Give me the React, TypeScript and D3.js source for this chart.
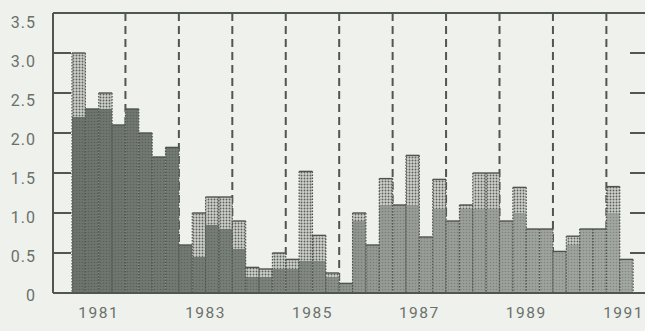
import React from "react";
import * as d3 from "d3";

// ---- data ----
const years = [1981, 1982, 1983, 1984, 1985, 1986, 1987, 1988, 1989, 1990, 1991];
const quarters = ["Q1", "Q2", "Q3", "Q4"];
const categories = years.flatMap((y) => quarters.map((q) => `${y} ${q}`)).slice(0, 42);

// bar heights (quarterly)
const values = [
  3.0, 2.3, 2.5, 2.1,
  2.3, 2.0, 1.7, 1.82,
  0.6, 1.0, 1.2, 1.2,
  0.9, 0.32, 0.3, 0.5,
  0.42, 1.52, 0.72, 0.25,
  0.12, 1.0, 0.6, 1.43,
  1.1, 1.72, 0.7, 1.42,
  0.9, 1.1, 1.5, 1.5,
  0.9, 1.32, 0.8, 0.8,
  0.52, 0.71, 0.8, 0.8,
  1.33, 0.42,
];

// level up to which the (darker, photo-tinted) part of each bar reaches
const tint = [
  2.2, 2.3, 2.3, 2.1,
  2.3, 2.0, 1.7, 1.82,
  0.6, 0.45, 0.85, 0.8,
  0.55, 0.2, 0.2, 0.3,
  0.3, 0.4, 0.4, 0.2,
  0.12, 0.9, 0.6, 1.1,
  1.1, 1.1, 0.7, 1.05,
  0.9, 1.05, 1.05, 1.05,
  0.9, 1.0, 0.8, 0.8,
  0.52, 0.6, 0.8, 0.8,
  1.0, 0.42,
];

const yTicks = [0, 0.5, 1.0, 1.5, 2.0, 2.5, 3.0, 3.5];
const yTickLabels = ["0", "0.5", "1.0", "1.5", "2.0", "2.5", "3.0", "3.5"];
const xLabelYears = [1981, 1983, 1985, 1987, 1989, 1991];

// ---- chart ----
const W = 645;
const H = 331;

export default function App() {
  const plotLeft = 53;
  const plotTop = 13;
  const plotBottom = 293;
  const barsLeft = 72;
  const barsRight = 633.1;

  const x = d3.scaleBand<string>().domain(categories).range([barsLeft, barsRight]).padding(0);
  const bw = x.bandwidth();
  const yearX = d3.scaleLinear().domain([1981, 1991.5]).range([barsLeft, barsRight]);
  const y = d3.scaleLinear().domain([0, 3.5]).range([plotBottom, plotTop]);
  const yLab = d3.scaleLinear().domain([0, 3.5]).range([295, 22]);

  const axisColor = "#505650";
  const textColor = "#6a706a";
  const fontStyle = { fontFamily: "Roboto, 'Liberation Sans', sans-serif" };

  const boundaries = years.slice(1);

  return (
    <svg
      width={W}
      height={H}
      viewBox={`0 0 ${W} ${H}`}
      style={{ position: "absolute", left: 0, top: 0, display: "block" }}
    >
      <defs>
        <pattern id="stip" width="3" height="3" patternUnits="userSpaceOnUse">
          <rect width="3" height="3" fill="#cfd2cc" />
          <circle cx="1.5" cy="1.5" r="0.95" fill="#5b605b" />
        </pattern>
        <pattern id="tex" width="3" height="3" patternUnits="userSpaceOnUse">
          <circle cx="1.5" cy="1.5" r="0.8" fill="#000" fillOpacity="0.18" />
        </pattern>
        <linearGradient id="photo" gradientUnits="userSpaceOnUse" x1={barsLeft} x2={barsRight} y1="0" y2="0">
          <stop offset="0" stopColor="#6d746d" />
          <stop offset="0.2" stopColor="#737a73" />
          <stop offset="0.4" stopColor="#7f857f" />
          <stop offset="0.55" stopColor="#969b95" />
          <stop offset="1" stopColor="#a2a7a1" />
        </linearGradient>
      </defs>

      <rect x={0} y={0} width={W} height={H} fill="#eff1ed" />

      {/* dashed year separators */}
      {boundaries.map((yr) => (
        <line
          key={`d${yr}`}
          x1={yearX(yr)}
          x2={yearX(yr)}
          y1={plotTop}
          y2={plotBottom}
          stroke={axisColor}
          strokeWidth={2}
          strokeDasharray="8 5"
        />
      ))}

      {/* bars */}
      {categories.map((c, i) => {
        const x0 = x(c) as number;
        const v = values[i];
        const t = Math.min(tint[i], v);
        return (
          <g key={c}>
            <rect x={x0} y={y(v)} width={bw} height={y(0) - y(v)} fill="url(#stip)" />
            <rect x={x0} y={y(t)} width={bw} height={y(0) - y(t)} fill="url(#photo)" />
            <rect x={x0} y={y(t)} width={bw} height={y(0) - y(t)} fill="url(#tex)" />
            <line x1={x0} x2={x0 + bw} y1={y(v)} y2={y(v)} stroke="#4e534e" strokeWidth={1.4} />
            <line x1={x0} x2={x0} y1={y(v)} y2={y(0)} stroke="#4e534e" strokeWidth={1.2} strokeDasharray="1.5 1.5" />
            <line x1={x0 + bw} x2={x0 + bw} y1={y(v)} y2={y(0)} stroke="#4e534e" strokeWidth={1.2} strokeDasharray="1.5 1.5" />
          </g>
        );
      })}

      {/* frame */}
      <line x1={plotLeft} x2={plotLeft} y1={plotTop} y2={plotBottom} stroke={axisColor} strokeWidth={2} />
      <line x1={plotLeft} x2={W} y1={plotTop} y2={plotTop} stroke={axisColor} strokeWidth={2} />
      <line x1={plotLeft} x2={W} y1={plotBottom} y2={plotBottom} stroke={axisColor} strokeWidth={2} />

      {/* left ticks */}
      {yTicks.slice(1, -1).map((v) => (
        <line key={`lt${v}`} x1={plotLeft} x2={plotLeft + 18} y1={y(v)} y2={y(v)} stroke={axisColor} strokeWidth={2} />
      ))}
      {/* right ticks */}
      {yTicks.slice(1, -1).map((v) => (
        <line key={`rt${v}`} x1={630} x2={W} y1={y(v)} y2={y(v)} stroke={axisColor} strokeWidth={2} />
      ))}

      {/* y labels */}
      {yTicks.map((v, i) => (
        <text
          key={`yl${v}`}
          x={36}
          y={yLab(v)}
          textAnchor="end"
          dominantBaseline="central"
          style={fontStyle}
          fontSize={16}
          letterSpacing={1}
          fill={textColor}
        >
          {yTickLabels[i]}
        </text>
      ))}

      {/* x labels */}
      {xLabelYears.map((yr) => {
        const cx = yearX(yr + 0.5);
        const half = 22;
        const clamp = cx + half > W;
        return (
          <text
            key={`xl${yr}`}
            x={clamp ? W - 1 : cx}
            y={318}
            textAnchor={clamp ? "end" : "middle"}
            style={fontStyle}
            fontSize={15.5}
            letterSpacing={1.5}
            fill={textColor}
          >
            {yr}
          </text>
        );
      })}
    </svg>
  );
}
